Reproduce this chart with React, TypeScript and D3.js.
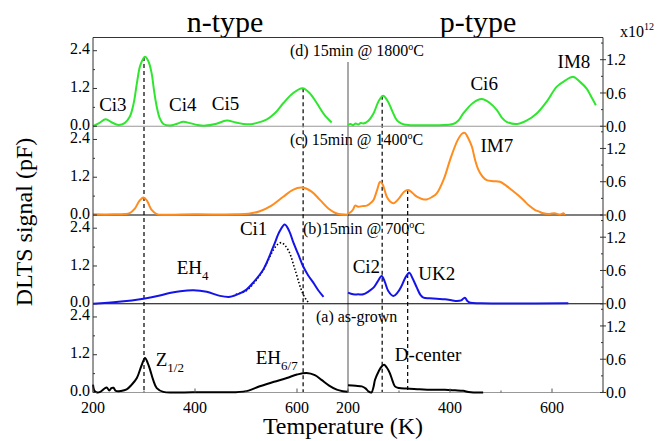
import React from 'react';
import * as d3 from 'd3';

type Pt = [number, number];

// n-type (left) curves, [T (K), signal (pF)]
const nD: Pt[] = [[200,0.0],[212,0.1],[225,0.22],[237,0.12],[250,0.04],[262,0.1],[272,0.3],[280,0.75],[286,1.36],[293,1.95],[302,2.21],[309,2.05],[315,1.68],[320,1.1],[325,0.62],[331,0.25],[338,0.07],[351,0.02],[365,0.08],[377,0.14],[390,0.1],[405,0.04],[420,0.02],[440,0.07],[462,0.18],[480,0.12],[501,0.06],[520,0.1],[541,0.22],[557,0.42],[573,0.73],[592,1.05],[611,1.21],[625,1.05],[639,0.73],[653,0.38],[668,0.12]];
const nC: Pt[] = [[200,0.02],[240,0.02],[262,0.03],[272,0.06],[282,0.2],[291,0.45],[299,0.56],[306,0.45],[315,0.16],[325,0.03],[340,0.01],[400,0.02],[480,0.02],[505,0.04],[527,0.12],[550,0.3],[573,0.58],[592,0.8],[609,0.87],[628,0.75],[645,0.48],[662,0.2],[678,0.05],[700,0.01]];
const nB: Pt[] = [[200,0.0],[250,0.06],[299,0.16],[331,0.26],[350,0.34],[371,0.4],[397,0.43],[423,0.38],[449,0.25],[469,0.22],[488,0.33],[501,0.45],[514,0.67],[534,1.09],[554,1.83],[566,2.3],[576,2.52],[585,2.3],[593,1.94],[603,1.55],[612,1.19],[622,0.9],[632,0.67],[642,0.42],[652,0.22]];
const nFit: Pt[] = [[480,0.3],[501,0.42],[520,0.75],[534,1.08],[554,1.72],[563,1.9],[570,1.94],[583,1.7],[596,1.09],[609,0.42],[618,0.13],[625,0.0]];
const nA: Pt[] = [[200,0.25],[203,0.05],[208,0.0],[215,0.03],[222,0.12],[227,0.16],[232,0.06],[236,0.14],[240,0.15],[245,0.05],[255,0.05],[266,0.1],[276,0.25],[286,0.46],[295,0.85],[302,1.1],[307,0.95],[312,0.72],[318,0.4],[325,0.14],[338,0.02],[360,0.0],[420,0.01],[480,0.01],[505,0.06],[527,0.2],[555,0.34],[580,0.46],[600,0.57],[619,0.62],[635,0.55],[648,0.4],[663,0.22],[678,0.09],[690,0.04],[700,0.02]];

// p-type (right) curves, [T (K), signal (x10^12)]
const pD: Pt[] = [[200,0.02],[205,0.04],[210,0.02],[215,0.05],[220,0.03],[225,0.06],[230,0.05],[240,0.1],[250,0.23],[260,0.45],[269,0.55],[278,0.45],[286,0.29],[293,0.15],[299,0.08],[310,0.03],[322,0.02],[350,0.02],[380,0.02],[406,0.04],[416,0.1],[426,0.23],[445,0.42],[462,0.49],[478,0.42],[492,0.29],[502,0.15],[511,0.08],[531,0.04],[550,0.1],[570,0.23],[590,0.45],[609,0.71],[625,0.82],[642,0.89],[655,0.8],[668,0.68],[676,0.55],[686,0.38]];
const pC: Pt[] = [[200,0.03],[205,0.05],[210,0.1],[214,0.17],[220,0.15],[228,0.16],[237,0.17],[245,0.22],[250,0.27],[257,0.45],[263,0.6],[268,0.55],[276,0.33],[283,0.24],[289,0.21],[300,0.3],[310,0.42],[318,0.45],[326,0.4],[335,0.33],[345,0.29],[354,0.28],[364,0.32],[374,0.39],[388,0.65],[400,0.99],[415,1.35],[424,1.47],[429,1.48],[436,1.38],[443,1.23],[449,1.0],[456,0.81],[464,0.69],[472,0.63],[485,0.61],[498,0.6],[510,0.53],[521,0.45],[532,0.37],[544,0.27],[555,0.17],[567,0.09],[575,0.06],[583,0.03],[595,0.02],[605,0.03],[615,0.01],[623,0.03],[625,0.0]];
const pB: Pt[] = [[200,0.2],[210,0.17],[220,0.17],[230,0.17],[240,0.22],[250,0.29],[258,0.4],[266,0.5],[272,0.4],[279,0.23],[289,0.14],[297,0.2],[305,0.32],[313,0.48],[320,0.56],[327,0.45],[335,0.29],[342,0.16],[348,0.11],[360,0.1],[374,0.09],[390,0.08],[405,0.06],[413,0.05],[422,0.06],[429,0.11],[434,0.05],[440,0.02],[460,0.01],[632,0.01]];
const pA: Pt[] = [[200,0.13],[215,0.12],[227,0.11],[235,0.07],[240,0.02],[246,0.0],[250,0.1],[253,0.23],[260,0.38],[266,0.47],[271,0.5],[276,0.45],[282,0.35],[287,0.22],[292,0.11],[300,0.08],[315,0.07],[340,0.06],[361,0.05],[390,0.05],[410,0.04],[426,0.03],[436,0.01],[446,0.0],[465,0.0]];

const leftTicks = [0, 1.2, 2.4];
const leftMinor = [0.6, 1.8];
const rightTicks = [0, 0.6, 1.2];
const rightMinor = [0.3, 0.9, 1.5];
const xTicks = [200, 400, 600];
const xMinor = [300, 500, 700];

const panelTitles = ['(d) 15min @ 1800', '(c) 15min @ 1400', '(b)15min @ 700', '(a) as-grown'];
const panelTitleDeg = [true, true, true, false];
const panelTitleX = [290, 290, 303, 316];

// peak labels: [text, subscript, side, panel, T, value, anchor]
type PeakLabel = [string, string, 'n' | 'p', number, number, number, 'start' | 'middle'];
const peakLabels: PeakLabel[] = [
  ['Ci3', '', 'n', 0, 239, 0.49, 'middle'],
  ['Ci4', '', 'n', 0, 376, 0.49, 'middle'],
  ['Ci5', '', 'n', 0, 460, 0.53, 'middle'],
  ['Ci1', '', 'n', 2, 515, 2.2, 'middle'],
  ['EH', '4', 'n', 2, 364, 0.93, 'start'],
  ['Z', '1/2', 'n', 3, 323, 0.83, 'start'],
  ['EH', '6/7', 'n', 3, 519, 0.92, 'start'],
  ['Ci6', '', 'p', 0, 467, 0.65, 'middle'],
  ['IM8', '', 'p', 0, 643, 1.05, 'middle'],
  ['IM7', '', 'p', 1, 492, 1.14, 'middle'],
  ['Ci2', '', 'p', 2, 236, 0.56, 'middle'],
  ['UK2', '', 'p', 2, 374, 0.42, 'middle'],
  ['D-center', '', 'p', 3, 357, 0.56, 'middle'],
];

// dashed guide lines: [side, T, startPanel, startValue]
const guides: ['n' | 'p', number, number, number][] = [
  ['n', 300, 0, 2.2],
  ['n', 612, 0, 1.21],
  ['p', 267, 0, 0.55],
  ['p', 317, 1, 0.45],
];

const GREEN = '#2ee62e';
const ORANGE = '#ff8c1e';
const BLUE = '#1414ea';
const BLACK = '#000';

const W = 669, H = 441;
const L = 93, M = 348, R = 603, TOP = 37.5, PH = 88.75;
const FONT = '"Liberation Serif", "Times New Roman", serif';

const xN = d3.scaleLinear().domain([200, 700]).range([L, M]);
const xP = d3.scaleLinear().domain([200, 700]).range([M, R]);
const bottomOf = (i: number) => TOP + PH * (i + 1);
const yL = (i: number) => d3.scaleLinear().domain([0, 2.82]).range([bottomOf(i), bottomOf(i) - PH]);
const yR = (i: number) => d3.scaleLinear().domain([0, 1.6]).range([bottomOf(i), bottomOf(i) - PH]);

const curves: { data: Pt[]; side: 'n' | 'p'; panel: number; color: string; dotted?: boolean }[] = [
  { data: nD, side: 'n', panel: 0, color: GREEN },
  { data: nC, side: 'n', panel: 1, color: ORANGE },
  { data: nFit, side: 'n', panel: 2, color: BLACK, dotted: true },
  { data: nB, side: 'n', panel: 2, color: BLUE },
  { data: nA, side: 'n', panel: 3, color: BLACK },
  { data: pD, side: 'p', panel: 0, color: GREEN },
  { data: pC, side: 'p', panel: 1, color: ORANGE },
  { data: pB, side: 'p', panel: 2, color: BLUE },
  { data: pA, side: 'p', panel: 3, color: BLACK },
];

export default function App() {
  const panels = [0, 1, 2, 3];
  const baseColors = ['#999', '#000', '#000', '#999'];
  return (
    <svg width={W} height={H} style={{ position: 'absolute', left: 0, top: 0, background: '#fff' }} fontFamily={FONT}>
      <rect x={0} y={0} width={W} height={H} fill="#fff" />
      {/* titles */}
      <text x={225} y={32} fontSize={30} textAnchor="middle">n-type</text>
      <text x={478} y={32} fontSize={30} textAnchor="middle">p-type</text>
      <text x={620} y={37} fontSize={16}>x10<tspan fontSize={10} dy={-7}>12</tspan></text>

      {/* guides */}
      {guides.map(([side, T, p, v], i) => {
        const x = side === 'n' ? xN(T) : xP(T);
        const y0 = side === 'n' ? yL(p)(v) : yR(p)(v);
        return <line key={'g' + i} x1={x} x2={x} y1={y0} y2={bottomOf(3)} stroke="#000" strokeWidth={1.2} strokeDasharray="4,3" />;
      })}

      {/* divider */}
      <line x1={M} x2={M} y1={62} y2={bottomOf(3)} stroke="#555" strokeWidth={1} />

      {/* panel baselines */}
      {panels.map(i => (
        <line key={'b' + i} x1={L} x2={R} y1={bottomOf(i)} y2={bottomOf(i)} stroke={baseColors[i]} strokeWidth={1.2} />
      ))}

      {/* curves */}
      {curves.map((c, i) => {
        const xs = c.side === 'n' ? xN : xP;
        const ys = c.side === 'n' ? yL(c.panel) : yR(c.panel);
        const line = d3.line<Pt>().x(d => xs(d[0])).y(d => ys(d[1])).curve(d3.curveCatmullRom.alpha(0.5));
        return (
          <path key={'c' + i} d={line(c.data) || ''} fill="none" stroke={c.color}
            strokeWidth={c.dotted ? 1.6 : 2} strokeDasharray={c.dotted ? '1.5,2' : undefined} strokeLinejoin="round" />
        );
      })}

      {/* frame */}
      <line x1={L} x2={R} y1={TOP} y2={TOP} stroke="#333" strokeWidth={1} />
      <line x1={L} x2={L} y1={TOP} y2={bottomOf(3)} stroke="#333" strokeWidth={1} />
      <line x1={R} x2={R} y1={TOP} y2={bottomOf(3)} stroke="#333" strokeWidth={1} />

      {/* left y ticks */}
      {panels.map(i => {
        const y = yL(i);
        return (
          <g key={'ly' + i}>
            {leftTicks.map(t => (
              <g key={t}>
                <line x1={L} x2={L + 4} y1={y(t)} y2={y(t)} stroke="#333" />
                <text x={90} y={y(t)} dy="0.22em" fontSize={16} textAnchor="end">{t.toFixed(1)}</text>
              </g>
            ))}
            {leftMinor.map(t => <line key={'m' + t} x1={L} x2={L + 2} y1={y(t)} y2={y(t)} stroke="#333" />)}
          </g>
        );
      })}

      {/* right y ticks */}
      {panels.map(i => {
        const y = yR(i);
        return (
          <g key={'ry' + i}>
            {rightTicks.map(t => (
              <g key={t}>
                <line x1={R - 3} x2={R + 3} y1={y(t)} y2={y(t)} stroke="#333" />
                <text x={606} y={y(t)} dy="0.35em" fontSize={16} textAnchor="start">{t.toFixed(1)}</text>
              </g>
            ))}
            {rightMinor.map(t => <line key={'m' + t} x1={R - 2} x2={R} y1={y(t)} y2={y(t)} stroke="#333" />)}
          </g>
        );
      })}

      {/* bottom x ticks */}
      {[xN, xP].map((xs, k) => (
        <g key={'x' + k}>
          {xTicks.map(t => (
            <g key={t}>
              <line x1={xs(t)} x2={xs(t)} y1={bottomOf(3)} y2={bottomOf(3) - 4} stroke="#555" />
              <text x={xs(t)} y={413} fontSize={16} textAnchor="middle">{t}</text>
            </g>
          ))}
          {xMinor.map(t => <line key={'m' + t} x1={xs(t)} x2={xs(t)} y1={bottomOf(3)} y2={bottomOf(3) - 2} stroke="#555" />)}
        </g>
      ))}

      {/* panel titles */}
      {panels.map(i => (
        <text key={'pt' + i} x={panelTitleX[i]} y={TOP + PH * i + 18.5} fontSize={16}>
          {panelTitles[i]}
          {panelTitleDeg[i] ? <><tspan fontSize={10} dy={-6}>o</tspan><tspan dy={6}>C</tspan></> : null}
        </text>
      ))}

      {/* peak labels */}
      {peakLabels.map(([txt, sub, side, p, T, v, anchor], i) => {
        const x = side === 'n' ? xN(T) : xP(T);
        const y = side === 'n' ? yL(p)(v) : yR(p)(v);
        return (
          <text key={'pl' + i} x={x} y={y} fontSize={19} textAnchor={anchor}>
            {txt}
            {sub ? <tspan fontSize={13} dy={6}>{sub}</tspan> : null}
          </text>
        );
      })}

      {/* axis labels */}
      <text transform="translate(32,222) rotate(-90)" fontSize={24} textAnchor="middle">DLTS signal (pF)</text>
      <text x={343} y={434} fontSize={24} textAnchor="middle">Temperature (K)</text>
    </svg>
  );
}
